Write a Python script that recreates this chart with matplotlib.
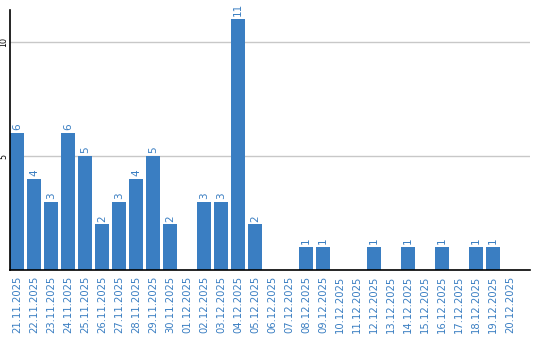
import matplotlib
matplotlib.use("Agg")
import matplotlib.pyplot as plt

dates = ["21.11.2025", "22.11.2025", "23.11.2025", "24.11.2025", "25.11.2025",
         "26.11.2025", "27.11.2025", "28.11.2025", "29.11.2025", "30.11.2025",
         "01.12.2025", "02.12.2025", "03.12.2025", "04.12.2025", "05.12.2025",
         "06.12.2025", "07.12.2025", "08.12.2025", "09.12.2025", "10.12.2025",
         "11.12.2025", "12.12.2025", "13.12.2025", "14.12.2025", "15.12.2025",
         "16.12.2025", "17.12.2025", "18.12.2025", "19.12.2025", "20.12.2025"]
counts = [6, 4, 3, 6, 5, 2, 3, 4, 5, 2,
          0, 3, 3, 11, 2, 0, 0, 1, 1, 0,
          0, 1, 0, 1, 0, 1, 0, 1, 1, 0]
yticks = [5, 10]

blue = "#3a7ec2"
W, H = 540, 340
fig = plt.figure(figsize=(W / 100, H / 100), dpi=100)
ax = fig.add_axes([10 / W, (H - 270) / H, 520 / W, 260 / H])

bw = 14 / 17
xs = list(range(len(dates)))
ax.bar(xs, counts, width=bw, align="edge", color=blue, zorder=2)
ax.set_xlim(0, 520 / 17)
ax.set_ylim(0, 11.4)

for x, v in zip(xs, counts):
    if v > 0:
        ax.annotate(str(v), (x + bw / 2, v), xytext=(0, 2), textcoords="offset points",
                    rotation=90, ha="center", va="bottom", color=blue, fontsize=7.5)

ax.set_xticks([x + bw / 2 for x in xs])
ax.set_xticklabels(dates, rotation=90, color=blue, fontsize=7.2)
ax.tick_params(axis="x", length=0, pad=4)

ax.set_yticks(yticks)
ax.set_yticklabels([str(t) for t in yticks], rotation=90, va="center", fontsize=5.8,
                   color="black")
ax.tick_params(axis="y", length=0, pad=1.2)
ax.yaxis.grid(True, color="#c8c8c8", linewidth=1, zorder=0)
ax.set_axisbelow(True)

for s in ["top", "right"]:
    ax.spines[s].set_visible(False)
ax.spines["left"].set_linewidth(1.2)
ax.spines["bottom"].set_linewidth(1.2)
ax.spines["bottom"].set_zorder(3)

fig.savefig("out.png", dpi=100)
